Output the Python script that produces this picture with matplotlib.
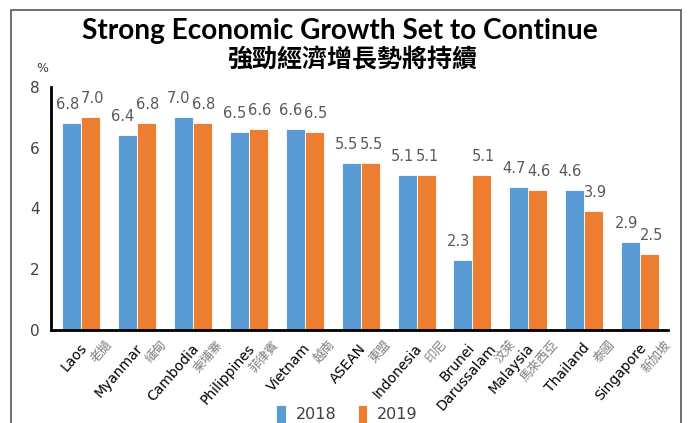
import numpy as np
import matplotlib
matplotlib.use('Agg')
from matplotlib import pyplot as plt
from matplotlib.patches import Rectangle

#_____________________________DATA_______________________________________#
countries_en = ["Laos", "Myanmar", "Cambodia", "Philippines", "Vietnam", "ASEAN",
                "Indonesia", "Brunei\nDarussalam", "Malaysia", "Thailand", "Singapore"]
countries_zh = ["老撾", "緬甸", "柬埔寨", "菲律賓", "越南", "東盟",
                "印尼", "汶萊", "馬來西亞", "泰國", "新加坡"]
growth_2018 = [6.8, 6.4, 7.0, 6.5, 6.6, 5.5, 5.1, 2.3, 4.7, 4.6, 2.9]
growth_2019 = [7.0, 6.8, 6.8, 6.6, 6.5, 5.5, 5.1, 5.1, 4.6, 3.9, 2.5]
years = ["2018", "2019"]

#_____________________________STYLE_______________________________________#
blue = '#5B9BD5'
orange = '#ED7D31'
grey_txt = '#595959'
cjk = ['Noto Sans CJK TC', 'DejaVu Sans']
px = 72 / 100  # points per pixel at 100 dpi

fig = plt.figure(figsize=(6.88, 4.23), dpi=100)
ax = fig.add_axes([0.0741, 0.2199, 0.897, 0.575])

x = np.arange(len(countries_en))
w = 0.34
b1 = ax.bar(x - w/2, growth_2018, w, color=blue, edgecolor='white', linewidth=0.6, label=years[0])
b2 = ax.bar(x + w/2, growth_2019, w, color=orange, edgecolor='white', linewidth=0.6, label=years[1])

# value labels above bars (blue ones nudged left, orange ones right, like the original)
for bars, vals, nudge in [(b1, growth_2018, -4.5), (b2, growth_2019, 1.5)]:
    for r, v in zip(bars, vals):
        ax.annotate(f"{v:.1f}", (r.get_x() + r.get_width()/2, v), xytext=(nudge * px, 8),
                    textcoords='offset points', ha='center', va='bottom',
                    fontsize=10.5, color=grey_txt)

ax.set_xlim(-0.54, 10.5)
ax.set_ylim(0, 8)
ax.set_yticks([0, 2, 4, 6, 8])
ax.tick_params(axis='y', length=0, labelsize=11, labelcolor='#404040', pad=8)
ax.set_xticks(x)
ax.set_xticklabels([])
ax.tick_params(axis='x', length=0)
for s in ['top', 'right']:
    ax.spines[s].set_visible(False)
for s in ['left', 'bottom']:
    ax.spines[s].set_linewidth(2)

# rotated two-language category labels, English in black, Chinese in grey beside it
rot = 49
for i, (en, zh) in enumerate(zip(countries_en, countries_zh)):
    lines = en.split("\n")
    if len(lines) > 1:
        offs = [-5, 16]   # Brunei / Darussalam
        zh_dx = 36
    else:
        offs = [-2]
        zh_dx = 23
    for ln, dx in zip(lines, offs):
        ax.annotate(ln, (i, 0), xycoords=('data', 'axes fraction'),
                    xytext=(dx * px, -11 * px), textcoords='offset points',
                    rotation=rot, rotation_mode='anchor', ha='right', va='top',
                    fontsize=10, color='black')
    ax.annotate(zh, (i, 0), xycoords=('data', 'axes fraction'),
                xytext=(zh_dx * px, -8 * px), textcoords='offset points',
                rotation=rot, rotation_mode='anchor', ha='right', va='top',
                fontsize=9, color='#7F7F7F', family=cjk)

fig.text(42/688, 1 - 68/423, "%", ha='center', va='center', fontsize=9, color='#404040')
fig.text(340/688, 1 - 31/423, "Strong Economic Growth Set to Continue", ha='center', va='center',
         fontsize=20.2, fontweight='bold', family='Lato')
fig.text(352/688, 1 - 60/423, "強勁經濟增長勢將持續", ha='center', va='center',
         fontsize=18, fontweight='bold', family=cjk)

leg = fig.legend(handles=[b1, b2], loc='center', bbox_to_anchor=(347/688, 1 - 414/423),
                 ncol=2, frameon=False, fontsize=11.5, handlelength=0.6, handleheight=1.3,
                 columnspacing=1.35, handletextpad=0.6)
for t in leg.get_texts():
    t.set_color('#404040')

# outer frame
fig.patches.append(Rectangle((11/688, -0.1), (681 - 11)/688, 1.1 - 10/423,
                             transform=fig.transFigure, fill=False,
                             edgecolor='#555555', linewidth=1.2))

fig.savefig('out.png', dpi=100)
